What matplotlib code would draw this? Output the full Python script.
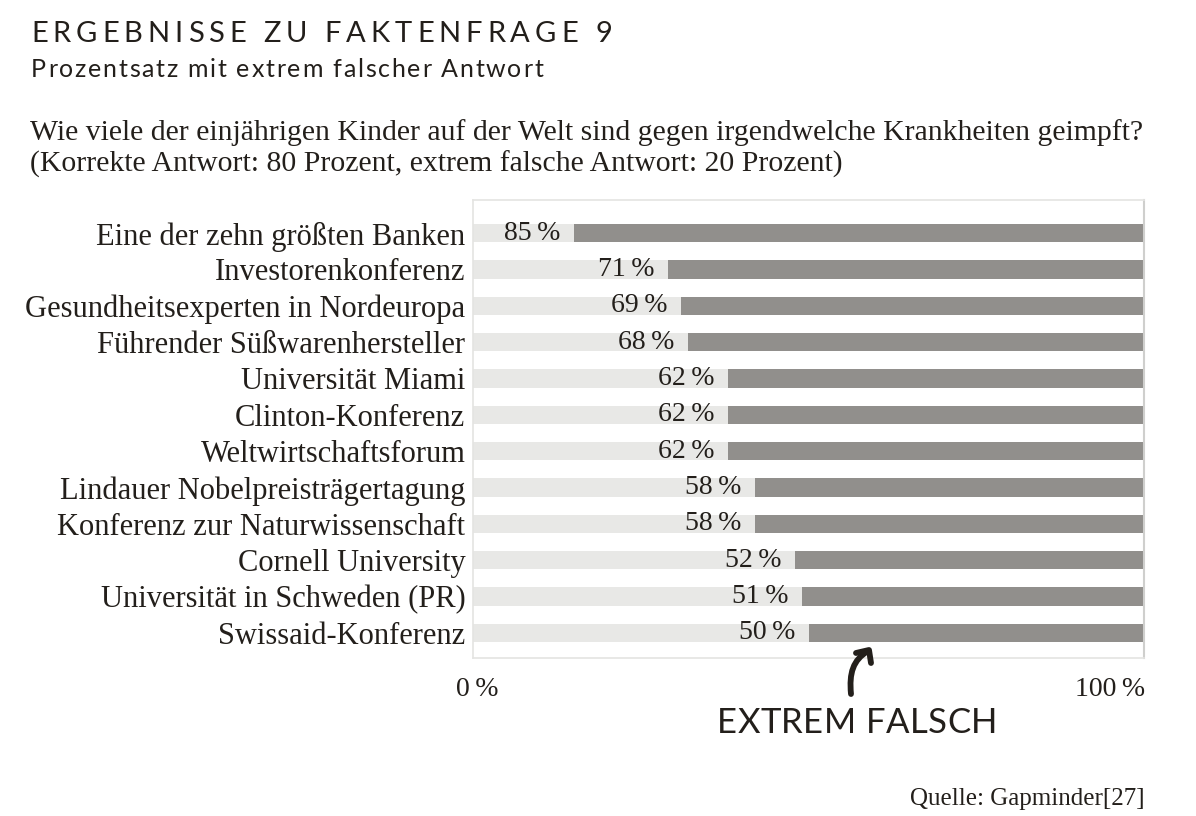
import matplotlib
matplotlib.use("Agg")
import matplotlib.pyplot as plt
from matplotlib.patches import PathPatch
from matplotlib.lines import Line2D
from matplotlib.path import Path

categories = [
    "Eine der zehn größten Banken",
    "Investorenkonferenz",
    "Gesundheitsexperten in Nordeuropa",
    "Führender Süßwarenhersteller",
    "Universität Miami",
    "Clinton-Konferenz",
    "Weltwirtschaftsforum",
    "Lindauer Nobelpreisträgertagung",
    "Konferenz zur Naturwissenschaft",
    "Cornell University",
    "Universität in Schweden (PR)",
    "Swissaid-Konferenz",
]
values = [85, 71, 69, 68, 62, 62, 62, 58, 58, 52, 51, 50]
x_ticks = [0, 100]
x_ticklabels = ["0\u2009%", "100\u2009%"]

TXT = "#231f1b"
DARK = "#918f8c"
LIGHT = "#e8e8e6"
SERIF = ["Liberation Serif", "DejaVu Serif"]
SANS = ["Lato", "DejaVu Sans"]

fig = plt.figure(figsize=(11.96, 8.16), dpi=100)
fig.patch.set_facecolor("white")
renderer = fig.canvas.get_renderer()

W, H = 1196, 816
def fx(px):
    return px / W
def fy(py):
    return 1 - py / H

def text_width(s, **kw):
    t = fig.text(0, 0, s, **kw)
    w = t.get_window_extent(renderer).width
    t.remove()
    return w

def tracked_text(x_px, y_px, s, target_w, ha="left", **kw):
    base = text_width(s, **kw)
    track = (target_w - base) / (len(s) - 1)
    total = base + track * (len(s) - 1)
    if ha == "center":
        x0 = x_px - total / 2
    else:
        x0 = x_px
    for i, ch in enumerate(s):
        if ch == " ":
            continue
        xi = text_width(s[:i + 1], **kw) - text_width(ch, **kw) + track * i
        fig.text(fx(x0 + xi), fy(y_px), ch, ha="left", va="baseline", **kw)

ax = fig.add_axes([fx(473), fy(658), fx(1144) - fx(473), fy(200) - fy(658)])
n = len(categories)
ys = list(range(n))
ax.barh(ys, [100] * n, left=0, height=0.5, color=LIGHT, zorder=1)
ax.barh(ys, values, left=[100 - v for v in values], height=0.5, color=DARK, zorder=2)
for y, v in zip(ys, values):
    ax.text(100 - v - 2.0, y, f"{v}\u2009%", ha="right", va="center",
            fontsize=20, color=TXT, family=SERIF, zorder=3)
ax.set_xlim(0, 100)
ax.set_ylim(n - 1 + 0.69, -0.91)
ax.set_yticks(ys)
ax.set_yticklabels(categories, fontsize=22, color=TXT, family=SERIF)
ax.tick_params(axis="y", length=0, pad=5.5)
ax.set_xticks([])
for s in ["top", "bottom", "left"]:
    ax.spines[s].set_color("#e4e4e2")
    ax.spines[s].set_linewidth(1.2)
ax.spines["right"].set_color("#cfcfcd")
ax.spines["right"].set_linewidth(1.5)

# x labels
fig.text(fx(477), fy(690), x_ticklabels[0], ha="center", va="center",
         fontsize=20, color=TXT, family=SERIF)
fig.text(fx(1145), fy(690), x_ticklabels[1], ha="right", va="center",
         fontsize=20, color=TXT, family=SERIF)

# titles
tracked_text(31, 42, "ERGEBNISSE ZU FAKTENFRAGE 9", 581,
             fontsize=21, color=TXT, family=SANS)
tracked_text(31, 77, "Prozentsatz mit extrem falscher Antwort", 512,
             fontsize=18, color=TXT, family=SANS)
fig.text(fx(30), fy(140),
         "Wie viele der einjährigen Kinder auf der Welt sind gegen irgendwelche Krankheiten geimpft?",
         ha="left", va="baseline", fontsize=21.4, color=TXT, family=SERIF)
fig.text(fx(30), fy(172),
         "(Korrekte Antwort: 80 Prozent, extrem falsche Antwort: 20 Prozent)",
         ha="left", va="baseline", fontsize=21.4, color=TXT, family=SERIF)

# annotation arrow (hand-drawn style)
verts = [(fx(851), fy(694)), (fx(849), fy(673)), (fx(853), fy(660)), (fx(868), fy(651))]
codes = [Path.MOVETO, Path.CURVE4, Path.CURVE4, Path.CURVE4]
shaft = PathPatch(Path(verts, codes), transform=fig.transFigure, fill=False,
                  lw=4.2, edgecolor=TXT, capstyle="round", joinstyle="round")
fig.add_artist(shaft)
head = Line2D([fx(856), fx(869), fx(871)], [fy(653), fy(650), fy(663)],
              transform=fig.transFigure, lw=4.2, color=TXT,
              solid_capstyle="round", solid_joinstyle="round")
fig.add_artist(head)
tracked_text(857, 733, "EXTREM FALSCH", 280, ha="center",
             fontsize=25, color=TXT, family=SANS)

fig.text(fx(1145), fy(805), "Quelle: Gapminder[27]", ha="right", va="baseline",
         fontsize=18, color=TXT, family=SERIF)

fig.savefig("out.png", dpi=100, facecolor="white")
